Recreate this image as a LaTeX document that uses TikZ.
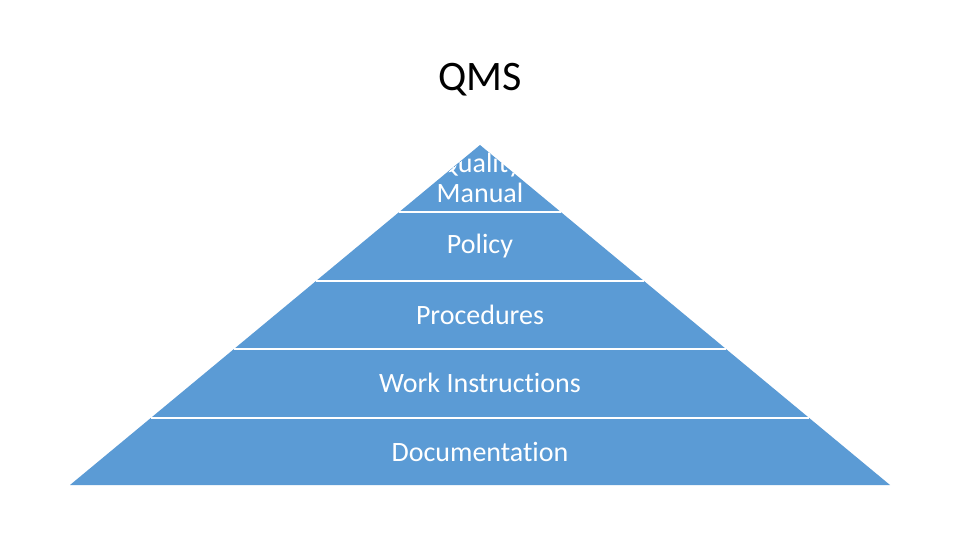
\documentclass[tikz,border=0pt]{standalone}
\usepackage{fontspec}
\setmainfont{Carlito}[Ligatures={NoCommon,NoContextual}]
\definecolor{pyr}{HTML}{5B9BD5}
\tikzset{
  band/.style={text=white, font=\fontsize{28}{30}\selectfont, anchor=center, inner sep=0pt},
  sep/.style={draw=white, line width=2pt},
}
\begin{document}
\begin{tikzpicture}[x=1pt,y=-1pt]
\useasboundingbox[fill=white] (0,0) rectangle (960,540);
\coordinate (apex) at (480,145);
\coordinate (bl) at (70,485);
\coordinate (br) at (890,485);
\fill[pyr] (apex) -- (bl) -- (br) -- cycle;
% separators
\foreach \y [count=\i] in {212,281,349,418}{
  \pgfmathsetmacro{\dx}{(\y-145)/340*410}
  \coordinate (sl\i) at ({480-\dx},\y);
  \coordinate (sr\i) at ({480+\dx},\y);
  \draw[sep] (sl\i) -- (sr\i);
}
\node[font=\fontsize{42}{50}\selectfont, inner sep=0pt] (title) at (480,80) {QMS};
\begin{scope}
  \clip (apex) -- (bl) -- (br) -- cycle;
  \node[band, align=center] (qm) at (480,178) {Quality\\Manual};
\end{scope}
\node[band] (policy) at (480,246) {Policy};
\node[band] (proc) at (480,315) {Procedures};
\node[band] (work) at (480,383) {Work Instructions};
\node[band] (doc) at (480,452) {Documentation};
\end{tikzpicture}
\end{document}
